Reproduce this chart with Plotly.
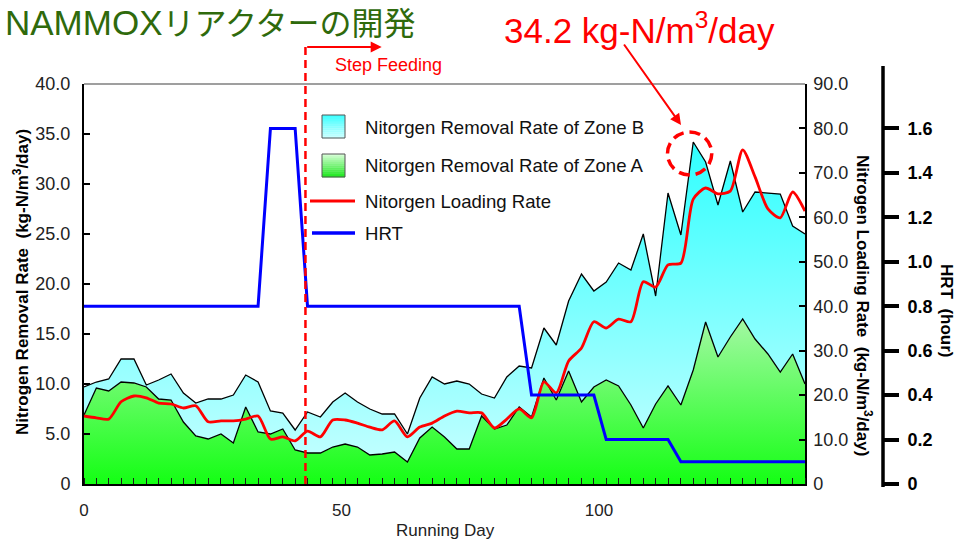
import plotly.graph_objects as go

# ---- data -------------------------------------------------------------
days = [0.0, 2.4, 4.8, 7.2, 9.7, 12.1, 14.5, 16.9, 19.3, 21.7,
        24.1, 26.6, 29.0, 31.4, 33.8, 36.2, 38.6, 41.0, 43.4, 45.9,
        48.3, 50.7, 53.1, 55.5, 57.9, 60.3, 62.8, 65.2, 67.6, 70.0,
        72.4, 74.8, 77.2, 79.7, 82.1, 84.5, 86.9, 89.3, 91.7, 94.1,
        96.6, 99.0, 101.4, 103.8, 106.2, 108.6, 111.0, 113.4, 115.9, 118.3,
        120.7, 123.1, 125.5, 127.9, 130.3, 132.8, 135.2, 137.6, 140.0]

# nitrogen removal rate, kg-N/m3/day
zone_a = [6.9, 9.6, 9.3, 10.2, 10.1, 9.7, 8.5, 8.4, 6.2, 4.8,
          4.5, 5.0, 4.1, 7.7, 5.2, 5.0, 5.5, 3.4, 3.1, 3.1,
          3.7, 4.0, 3.7, 2.9, 3.0, 3.2, 2.2, 4.6, 5.7, 4.7,
          3.5, 3.5, 6.8, 5.5, 5.9, 7.7, 6.7, 10.6, 8.4, 11.3,
          8.2, 9.7, 10.4, 9.8, 7.9, 5.6, 8.0, 9.8, 7.9, 11.4,
          16.2, 12.7, 14.7, 16.5, 14.5, 13.0, 11.2, 13.0, 10.0]
zone_b = [2.8, 0.6, 1.2, 2.3, 2.4, 0.2, 1.9, 2.6, 2.9, 3.3,
          4.0, 3.5, 4.8, 3.2, 5.0, 2.3, 1.6, 2.0, 4.1, 3.6,
          4.5, 5.1, 4.5, 4.6, 4.0, 3.8, 2.8, 4.0, 5.0, 5.3,
          6.8, 6.5, 2.2, 3.1, 4.8, 4.1, 4.9, 5.0, 5.5, 7.0,
          12.8, 9.6, 9.8, 12.3, 13.5, 19.4, 10.8, 19.3, 17.0, 22.8,
          16.0, 15.2, 17.6, 10.7, 14.7, 16.1, 17.8, 12.8, 15.0]

# nitrogen loading rate, kg-N/m3/day
loading = [15.3, 14.9, 14.6, 18.5, 19.8, 19.4, 18.2, 18.0, 17.1, 17.6,
           14.0, 14.2, 14.2, 14.6, 15.3, 10.1, 10.6, 9.7, 11.9, 10.6,
           14.4, 14.4, 13.7, 12.8, 12.2, 14.2, 10.6, 12.8, 13.7, 15.3,
           16.4, 16.0, 16.0, 12.6, 14.6, 16.9, 14.9, 23.0, 20.5, 27.7,
           30.6, 36.5, 35.1, 37.1, 36.5, 45.5, 44.3, 49.3, 49.7, 64.1,
           66.6, 65.3, 65.9, 75.2, 69.1, 61.9, 59.9, 65.7, 61.4]

# hydraulic retention time, hour
hrt = [0.8, 0.8, 0.8, 0.8, 0.8, 0.8, 0.8, 0.8, 0.8, 0.8,
       0.8, 0.8, 0.8, 0.8, 0.8, 1.6, 1.6, 1.6, 0.8, 0.8,
       0.8, 0.8, 0.8, 0.8, 0.8, 0.8, 0.8, 0.8, 0.8, 0.8,
       0.8, 0.8, 0.8, 0.8, 0.8, 0.8, 0.4, 0.4, 0.4, 0.4,
       0.4, 0.4, 0.2, 0.2, 0.2, 0.2, 0.2, 0.2, 0.1, 0.1,
       0.1, 0.1, 0.1, 0.1, 0.1, 0.1, 0.1, 0.1, 0.1]

peak_day = 118.3
peak_value = 34.2
step_feeding_day = 43.0

x_ticks = [0, 50, 100]
left_ticks = [0, 5, 10, 15, 20, 25, 30, 35, 40]
right_ticks = [0, 10, 20, 30, 40, 50, 60, 70, 80, 90]
hrt_ticks = [0, 0.2, 0.4, 0.6, 0.8, 1.0, 1.2, 1.4, 1.6]

total_removal = [a + b for a, b in zip(zone_a, zone_b)]

# ---- geometry helpers (pixels -> paper) -------------------------------
W, H = 960, 545
ML, MR, MT, MB = 84, 40, 84, 61
PW, PH = W - ML - MR, H - MT - MB
XD = (805 - ML) / PW          # end of the x domain


def px(xp):
    return (xp - ML) / PW


def py(yp):
    return (H - MB - yp) / PH


FONT = "Liberation Sans, Arial, sans-serif"
RED = "#ff0000"
BLUE = "#0000ff"

fig = go.Figure()

fig.add_trace(go.Scatter(
    x=days, y=zone_a, mode="lines", fill="tozeroy",
    line=dict(color="black", width=1.3),
    fillgradient=dict(type="vertical", start=0, stop=17,
                      colorscale=[[0, "#14ff14"], [1, "#a8f8a8"]]),
    showlegend=False, hoverinfo="skip"))

fig.add_trace(go.Scatter(
    x=days, y=total_removal, mode="lines", fill="tonexty",
    line=dict(color="black", width=1.3),
    fillgradient=dict(type="vertical", start=0, stop=35,
                      colorscale=[[0, "#ccffff"], [1, "#2cffff"]]),
    showlegend=False, hoverinfo="skip"))

fig.add_trace(go.Scatter(
    x=days, y=loading, mode="lines", yaxis="y2",
    line=dict(color=RED, width=2.8, shape="spline", smoothing=0.7),
    showlegend=False, hoverinfo="skip"))

fig.add_trace(go.Scatter(
    x=days, y=hrt, mode="lines", yaxis="y3",
    line=dict(color=BLUE, width=3),
    showlegend=False, hoverinfo="skip"))

tickfont = dict(family=FONT, size=18, color="#222222")

fig.update_layout(
    width=W, height=H,
    margin=dict(l=ML, r=MR, t=MT, b=MB),
    paper_bgcolor="white", plot_bgcolor="white",
    xaxis=dict(
        domain=[0, XD], range=[0, 140],
        showline=True, linecolor="black", linewidth=2,
        ticks="", tickmode="array", tickvals=x_ticks,
        ticktext=[str(v) for v in x_ticks],
        tickfont=dict(family=FONT, size=17, color="#222222"),
        ticklabelstandoff=10,
        showgrid=False, zeroline=False,
        minor=dict(ticks="inside", ticklen=6, tickwidth=1,
                   tickcolor="#1a1a1a", tickmode="array", tickvals=days,
                   showgrid=False),
    ),
    yaxis=dict(
        range=[0, 40], showline=True, linecolor="black", linewidth=2,
        ticks="inside", ticklen=6, tickwidth=1.5, tickcolor="black",
        tickmode="array", tickvals=left_ticks,
        ticktext=["0"] + [f"{v:.1f}" for v in left_ticks[1:]],
        tickfont=tickfont, ticklabelstandoff=8,
        showgrid=False, zeroline=False,
    ),
    yaxis2=dict(
        overlaying="y", side="right", anchor="x", range=[0, 90],
        showline=True, linecolor="black", linewidth=1.5,
        ticks="inside", ticklen=6, tickwidth=1.5, tickcolor="black",
        tickmode="array", tickvals=right_ticks,
        ticktext=["0"] + [f"{v:.1f}" for v in right_ticks[1:]],
        tickfont=tickfont, ticklabelstandoff=3,
        showgrid=False, zeroline=False,
    ),
    yaxis3=dict(
        overlaying="y", side="right", anchor="free", position=px(883),
        range=[0, 1.8], showline=False,
        ticks="outside", ticklen=15, tickwidth=3.5, tickcolor="black",
        tickmode="array", tickvals=hrt_ticks,
        ticktext=["0"] + [f"{v:.1f}" for v in hrt_ticks[1:]],
        tickfont=dict(family=FONT, size=18, color="black", weight="bold"),
        ticklabelstandoff=5,
        showgrid=False, zeroline=False,
    ),
)

shapes = []
annotations = []

# top frame of the plot box
shapes.append(dict(type="line", xref="paper", yref="paper",
                   x0=0, x1=XD, y0=1, y1=1,
                   line=dict(color="#7f7f7f", width=1.5)))
# HRT axis spine (runs a little past the plot box)
shapes.append(dict(type="line", xref="paper", yref="paper",
                   x0=px(883), x1=px(883), y0=py(487), y1=py(66),
                   line=dict(color="black", width=3.5)))
# step feeding marker
shapes.append(dict(type="line", xref="x", yref="paper",
                   x0=step_feeding_day, x1=step_feeding_day,
                   y0=0, y1=py(47),
                   line=dict(color=RED, width=2.5, dash="8px,5px")))
annotations.append(dict(xref="x", yref="paper", x=step_feeding_day + 14.8,
                        y=py(47), ax=-76, ay=0, text="", showarrow=True,
                        arrowhead=2, arrowsize=1.1, arrowwidth=2,
                        arrowcolor=RED, standoff=0))
annotations.append(dict(xref="paper", yref="paper", x=px(333), y=py(65),
                        xanchor="left", yanchor="middle",
                        text="Step Feeding", showarrow=False,
                        font=dict(family=FONT, size=18, color=RED)))

# peak highlight
shapes.append(dict(type="circle", xref="x", yref="y",
                   x0=peak_day - 5.0, x1=peak_day + 3.6,
                   y0=30.9, y1=35.2,
                   line=dict(color=RED, width=3.5, dash="11px,6px")))
annotations.append(dict(xref="paper", yref="paper", x=px(681), y=py(125),
                        ax=-58, ay=-82, text="", showarrow=True,
                        arrowhead=2, arrowsize=1.1, arrowwidth=2,
                        arrowcolor=RED, standoff=0))
annotations.append(dict(xref="paper", yref="paper", x=px(639), y=py(28),
                        xanchor="center", yanchor="middle",
                        text=f"{peak_value} kg-N/m<sup>3</sup>/day",
                        showarrow=False,
                        font=dict(family=FONT, size=35, color=RED)))

# title
annotations.append(dict(xref="paper", yref="paper", x=px(3), y=py(23),
                        xanchor="left", yanchor="middle",
                        text="NAMMOX<span style='font-size:32px'>リアクターの開発</span>",
                        showarrow=False,
                        font=dict(family="Liberation Sans, Noto Sans CJK JP",
                                  size=35, color="#2f6a0c")))

# axis titles
annotations.append(dict(xref="paper", yref="paper", x=px(21), y=py(282),
                        textangle=-90, xanchor="center", yanchor="middle",
                        text="Nitrogen Removal Rate\u00a0 (kg-N/m<sup>3</sup>/day)",
                        showarrow=False,
                        font=dict(family=FONT, size=17, color="black",
                                  weight="bold")))
annotations.append(dict(xref="paper", yref="paper", x=px(864), y=py(305),
                        textangle=90, xanchor="center", yanchor="middle",
                        text="Nitrogen Loading Rate\u00a0 (kg-N/m<sup>3</sup>/day)",
                        showarrow=False,
                        font=dict(family=FONT, size=17, color="black",
                                  weight="bold")))
annotations.append(dict(xref="paper", yref="paper", x=px(947), y=py(310),
                        textangle=90, xanchor="center", yanchor="middle",
                        text="HRT\u00a0 (hour)", showarrow=False,
                        font=dict(family=FONT, size=17, color="black",
                                  weight="bold")))
annotations.append(dict(xref="paper", yref="paper", x=px(445), y=py(530),
                        xanchor="center", yanchor="middle",
                        text="Running Day", showarrow=False,
                        font=dict(family=FONT, size=17, color="#222222")))


# legend
def hexmix(c0, c1, t):
    a = [int(c0[i:i + 2], 16) for i in (1, 3, 5)]
    b = [int(c1[i:i + 2], 16) for i in (1, 3, 5)]
    return "#" + "".join(f"{round(a[k] + (b[k] - a[k]) * t):02x}" for k in range(3))


def gradient_box(x0, x1, y0, y1, top, bottom, n=12):
    step = (y1 - y0) / n
    for k in range(n):
        shapes.append(dict(type="rect", xref="paper", yref="paper",
                           x0=px(x0), x1=px(x1),
                           y0=py(y0 + k * step), y1=py(y0 + (k + 1) * step + 0.3),
                           fillcolor=hexmix(top, bottom, (k + 0.5) / n),
                           line=dict(width=0)))
    shapes.append(dict(type="rect", xref="paper", yref="paper",
                       x0=px(x0), x1=px(x1), y0=py(y0), y1=py(y1),
                       line=dict(color="#555555", width=1)))


gradient_box(322, 345, 115, 138, "#3cffff", "#ccffff")
gradient_box(322, 345, 154, 177, "#dcffdc", "#14e614")
shapes.append(dict(type="line", xref="paper", yref="paper",
                   x0=px(310), x1=px(355), y0=py(201), y1=py(201),
                   line=dict(color=RED, width=3)))
shapes.append(dict(type="line", xref="paper", yref="paper",
                   x0=px(312), x1=px(355), y0=py(233), y1=py(233),
                   line=dict(color=BLUE, width=3.5)))
legend_rows = [("Nitorgen Removal Rate of Zone B", 127),
               ("Nitorgen Removal Rate of Zone A", 165),
               ("Nitorgen Loading Rate", 201),
               ("HRT", 233)]
for label, yc in legend_rows:
    annotations.append(dict(xref="paper", yref="paper", x=px(363), y=py(yc),
                            xanchor="left", yanchor="middle", text=label,
                            showarrow=False,
                            font=dict(family=FONT, size=18.6, color="#111111")))

fig.update_layout(shapes=shapes, annotations=annotations)

fig.write_html("out.html")
